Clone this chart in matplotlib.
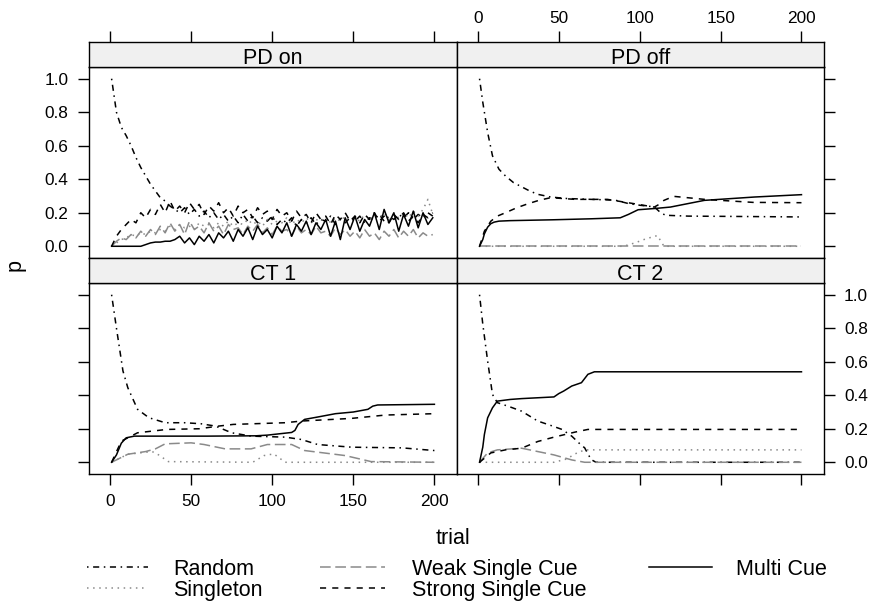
import matplotlib as mpl
mpl.use('Agg')
import matplotlib.pyplot as plt

plt.rcParams['font.family'] = ['Liberation Sans', 'DejaVu Sans']

## strategies, drawn in this order
strategies = ['Random', 'Singleton', 'Weak Single Cue', 'Strong Single Cue', 'Multi Cue']
colours = ['black', '#8a8a8a', '#8a8a8a', 'black', 'black']
styles = [(0, (1, 3, 4, 3)), (0, (1, 3)), (0, (7, 3)), (0, (4, 4)), '-']

panel_names = ['PD on', 'PD off', 'CT 1', 'CT 2']

## PD on: noisy, read every third trial
pdon_t = list(range(1, 201, 3))
pdon_random = [1.0, 0.8, 0.71, 0.66, 0.6, 0.53, 0.47, 0.42, 0.37, 0.33,
               0.29, 0.27, 0.24, 0.22, 0.2, 0.23, 0.19, 0.22, 0.18, 0.21,
               0.17, 0.2, 0.16, 0.19, 0.15, 0.18, 0.14, 0.19, 0.15, 0.18,
               0.14, 0.17, 0.15, 0.18, 0.13, 0.16, 0.14, 0.17, 0.12, 0.16,
               0.14, 0.17, 0.13, 0.16, 0.15, 0.18, 0.13, 0.16, 0.14, 0.17,
               0.15, 0.18, 0.14, 0.17, 0.16, 0.19, 0.15, 0.18, 0.16, 0.19,
               0.17, 0.2, 0.16, 0.19, 0.17, 0.2, 0.18]
pdon_singleton = [0, 0.02, 0.04, 0.05, 0.07, 0.06, 0.08, 0.07, 0.09, 0.08,
                  0.1, 0.09, 0.12, 0.1, 0.13, 0.11, 0.12, 0.1, 0.14, 0.12,
                  0.13, 0.11, 0.14, 0.12, 0.15, 0.12, 0.14, 0.13, 0.16, 0.13,
                  0.15, 0.12, 0.16, 0.13, 0.15, 0.14, 0.17, 0.13, 0.16, 0.14,
                  0.17, 0.14, 0.16, 0.15, 0.18, 0.14, 0.17, 0.15, 0.18, 0.16,
                  0.17, 0.15, 0.19, 0.16, 0.18, 0.17, 0.2, 0.16, 0.19, 0.17,
                  0.2, 0.17, 0.21, 0.18, 0.22, 0.28, 0.19]
pdon_weak = [0, 0.03, 0.05, 0.04, 0.07, 0.05, 0.09, 0.06, 0.1, 0.07,
             0.12, 0.08, 0.14, 0.09, 0.13, 0.07, 0.15, 0.1, 0.12, 0.08,
             0.14, 0.09, 0.12, 0.07, 0.13, 0.1, 0.11, 0.07, 0.12, 0.09,
             0.13, 0.08, 0.11, 0.07, 0.12, 0.09, 0.1, 0.06, 0.12, 0.08,
             0.1, 0.07, 0.12, 0.08, 0.09, 0.06, 0.11, 0.07, 0.1, 0.06,
             0.09, 0.05, 0.1, 0.06, 0.08, 0.04, 0.09, 0.06, 0.1, 0.05,
             0.09, 0.06, 0.1, 0.05, 0.08, 0.06, 0.07]
pdon_strong = [0, 0.06, 0.1, 0.13, 0.16, 0.14, 0.2, 0.17, 0.22, 0.19,
               0.25, 0.2, 0.27, 0.21, 0.24, 0.2, 0.26, 0.22, 0.25, 0.19,
               0.24, 0.21, 0.26, 0.2, 0.23, 0.18, 0.24, 0.2, 0.22, 0.17,
               0.23, 0.19, 0.21, 0.16, 0.22, 0.18, 0.2, 0.15, 0.21, 0.17,
               0.19, 0.14, 0.2, 0.16, 0.18, 0.13, 0.19, 0.16, 0.2, 0.15,
               0.18, 0.14, 0.19, 0.16, 0.2, 0.15, 0.18, 0.14, 0.19, 0.16,
               0.2, 0.15, 0.18, 0.14, 0.19, 0.17, 0.2]
pdon_multi = [0, 0, 0, 0, 0, 0, 0, 0.01, 0.02, 0.025,
              0.025, 0.03, 0.03, 0.04, 0.06, 0.02, 0.05, 0.01, 0.06, 0.03,
              0.07, 0.02, 0.08, 0.05, 0.09, 0.03, 0.1, 0.06, 0.11, 0.04,
              0.12, 0.07, 0.1, 0.05, 0.12, 0.08, 0.14, 0.06, 0.13, 0.09,
              0.15, 0.07, 0.14, 0.1, 0.16, 0.06, 0.15, 0.04, 0.17, 0.1,
              0.18, 0.09, 0.16, 0.12, 0.2, 0.1, 0.22, 0.14, 0.2, 0.09,
              0.19, 0.12, 0.21, 0.11, 0.2, 0.13, 0.17]

## PD off
pdoff_random_t = [1, 3, 6, 9, 13, 17, 22, 27, 32, 37, 45, 55, 70, 85, 93, 100, 109, 113, 116, 130, 160, 200]
pdoff_random_p = [1.0, 0.86, 0.68, 0.54, 0.46, 0.42, 0.38, 0.355, 0.33, 0.31, 0.294, 0.285,
                  0.28, 0.275, 0.255, 0.245, 0.235, 0.2, 0.185, 0.18, 0.178, 0.175]
pdoff_singleton_t = [1, 90, 97, 104, 111, 115, 200]
pdoff_singleton_p = [0, 0, 0.02, 0.045, 0.064, 0, 0]
pdoff_weak_t = [1, 200]
pdoff_weak_p = [0, 0]
pdoff_strong_t = [1, 4, 8, 12, 17, 24, 31, 38, 45, 60, 80, 96, 109, 112, 115, 121, 140, 170, 200]
pdoff_strong_p = [0, 0.09, 0.15, 0.18, 0.2, 0.23, 0.254, 0.275, 0.29, 0.28, 0.28, 0.255,
                  0.234, 0.25, 0.274, 0.298, 0.28, 0.262, 0.26]
pdoff_multi_t = [1, 3, 4, 6, 8, 10, 13, 20, 46, 70, 88, 93, 99, 110, 119, 130, 140, 171, 200]
pdoff_multi_p = [0, 0.04, 0.074, 0.114, 0.135, 0.144, 0.15, 0.153, 0.158, 0.164, 0.17, 0.19,
                 0.218, 0.226, 0.234, 0.255, 0.274, 0.294, 0.308]

## CT 1
ct1_random_t = [1, 4, 8, 11, 17, 24, 34, 46, 56, 65, 75, 87, 108, 118, 128, 149, 180, 200]
ct1_random_p = [1.0, 0.8, 0.545, 0.445, 0.316, 0.266, 0.236, 0.236, 0.23, 0.216, 0.176, 0.156,
                0.15, 0.136, 0.106, 0.09, 0.086, 0.07]
ct1_singleton_t = [1, 11, 26, 30, 36, 88, 95, 101, 108, 200]
ct1_singleton_p = [0, 0.048, 0.064, 0.044, 0.004, 0, 0.04, 0.05, 0, 0]
ct1_weak_t = [1, 11, 22, 28, 34, 50, 58, 71, 87, 97, 112, 120, 145, 161, 200]
ct1_weak_p = [0, 0.048, 0.064, 0.08, 0.11, 0.116, 0.106, 0.08, 0.08, 0.106, 0.106, 0.07,
              0.04, 0.004, 0]
ct1_strong_t = [1, 7, 17, 35, 55, 67, 76, 108, 118, 149, 170, 200]
ct1_strong_p = [0, 0.126, 0.176, 0.196, 0.2, 0.216, 0.226, 0.236, 0.246, 0.262, 0.282, 0.29]
ct1_multi_t = [1, 4, 7, 10, 15, 60, 90, 97, 112, 114, 116, 120, 128, 139, 150, 159, 162, 165, 200]
ct1_multi_p = [0, 0.044, 0.114, 0.146, 0.156, 0.156, 0.158, 0.162, 0.178, 0.19, 0.226, 0.256,
               0.27, 0.29, 0.3, 0.316, 0.335, 0.342, 0.346]

## CT 2
ct2_random_t = [1, 3, 6, 9, 12, 20, 27, 37, 45, 52, 58, 63, 66, 68, 70, 73, 200]
ct2_random_p = [1.0, 0.825, 0.605, 0.405, 0.356, 0.33, 0.305, 0.246, 0.22, 0.196, 0.156,
                0.11, 0.086, 0.05, 0.016, 0, 0]
ct2_singleton_t = [1, 47, 55, 60, 66, 200]
ct2_singleton_p = [0, 0, 0.02, 0.05, 0.074, 0.074]
ct2_weak_t = [1, 6, 12, 27, 37, 47, 58, 66, 200]
ct2_weak_p = [0, 0.056, 0.074, 0.084, 0.064, 0.044, 0.014, 0, 0]
ct2_strong_t = [1, 8, 17, 27, 37, 47, 60, 68, 200]
ct2_strong_p = [0, 0.056, 0.074, 0.084, 0.124, 0.15, 0.18, 0.196, 0.196]
ct2_multi_t = [1, 3, 4, 6, 9, 12, 20, 27, 47, 50, 53, 58, 64, 66, 68, 72, 200]
ct2_multi_p = [0, 0.09, 0.166, 0.265, 0.325, 0.365, 0.375, 0.38, 0.39, 0.41, 0.425, 0.455,
               0.475, 0.5, 0.525, 0.54, 0.54]

panel_series = [
    [(pdon_t, pdon_random), (pdon_t, pdon_singleton), (pdon_t, pdon_weak),
     (pdon_t, pdon_strong), (pdon_t, pdon_multi)],
    [(pdoff_random_t, pdoff_random_p), (pdoff_singleton_t, pdoff_singleton_p),
     (pdoff_weak_t, pdoff_weak_p), (pdoff_strong_t, pdoff_strong_p),
     (pdoff_multi_t, pdoff_multi_p)],
    [(ct1_random_t, ct1_random_p), (ct1_singleton_t, ct1_singleton_p),
     (ct1_weak_t, ct1_weak_p), (ct1_strong_t, ct1_strong_p), (ct1_multi_t, ct1_multi_p)],
    [(ct2_random_t, ct2_random_p), (ct2_singleton_t, ct2_singleton_p),
     (ct2_weak_t, ct2_weak_p), (ct2_strong_t, ct2_strong_p), (ct2_multi_t, ct2_multi_p)],
]

x_ticks = [0, 50, 100, 150, 200]
y_ticks = [0.0, 0.2, 0.4, 0.6, 0.8, 1.0]
y_ticklabels = ['0.0', '0.2', '0.4', '0.6', '0.8', '1.0']

W, H = 872, 603
fig = plt.figure(figsize=(W / 100, H / 100), dpi=100)

cols = [(89, 457), (457, 824)]
rows = [(67, 258), (283, 474)]
strip_h = 25.5
lw = 1.1
tick_kw = dict(direction='out', length=7.9, width=1.0, labelsize=12.4, colors='black')

for i, name in enumerate(panel_names):
    r, c = divmod(i, 2)
    x0, x1 = cols[c]
    y0, y1 = rows[r]
    ax = fig.add_axes([x0 / W, 1 - y1 / H, (x1 - x0) / W, (y1 - y0) / H])
    for k, (t, p) in enumerate(panel_series[i]):
        ax.plot(t, p, color=colours[k], linestyle=styles[k], linewidth=lw)
    ax.set_xlim(-12.93, 213.93)
    ax.set_ylim(-0.07, 1.07)
    for s in ax.spines.values():
        s.set_linewidth(1.0)
    ax.tick_params(axis='both', which='both', bottom=False, top=False, left=False, right=False,
                   labelbottom=False, labeltop=False, labelleft=False, labelright=False)
    ax.set_yticks(y_ticks)
    ax.set_yticklabels(y_ticklabels)
    ax.set_xticks(x_ticks)
    if r == 1:
        ax.tick_params(axis='x', bottom=True, labelbottom=(c == 0), pad=6.5, **tick_kw)
    if c == 0:
        ax.tick_params(axis='y', left=True, labelleft=(r == 0), pad=6.8, **tick_kw)
    else:
        ax.tick_params(axis='y', right=True, labelright=(r == 1), pad=6.5, **tick_kw)

    st = fig.add_axes([x0 / W, 1 - y0 / H, (x1 - x0) / W, strip_h / H])
    st.set_facecolor('#f0f0f0')
    st.set_xlim(-12.93, 213.93)
    st.set_ylim(0, 1)
    for s in st.spines.values():
        s.set_linewidth(1.0)
    st.set_yticks([])
    st.set_xticks(x_ticks)
    st.tick_params(axis='x', bottom=False, labelbottom=False, top=False, labeltop=False)
    if r == 0:
        st.tick_params(axis='x', top=True, labeltop=(c == 1), pad=3.5, **tick_kw)
    st.text(0.5, 0.13, name, transform=st.transAxes, ha='center', va='baseline', fontsize=15.5)

fig.text(453 / W, 1 - 544 / H, 'trial', ha='center', va='baseline', fontsize=15.5)
fig.text(15.5 / W, 1 - 265 / H, 'p', ha='center', va='center', rotation=90, fontsize=15.5)

## key below the panels, laid out in pixels
key = fig.add_axes([0, 0, 1, 1])
key.set_xlim(0, W)
key.set_ylim(H, 0)
key.axis('off')
key_line_x = [(87, 148), (320, 385), (649, 712)]
key_text_x = [173, 412, 736]
key_line_y = [567, 588]
key_text_y = [575, 596]
key_slot = [(0, 0), (0, 1), (1, 0), (1, 1), (2, 0)]
for k, label in enumerate(strategies):
    c, r = key_slot[k]
    key.plot(key_line_x[c], [key_line_y[r]] * 2, color=colours[k], linestyle=styles[k],
             linewidth=lw)
    key.text(key_text_x[c], key_text_y[r], label, ha='left', va='baseline', fontsize=15.5)

plt.savefig('out.png', dpi=100)
